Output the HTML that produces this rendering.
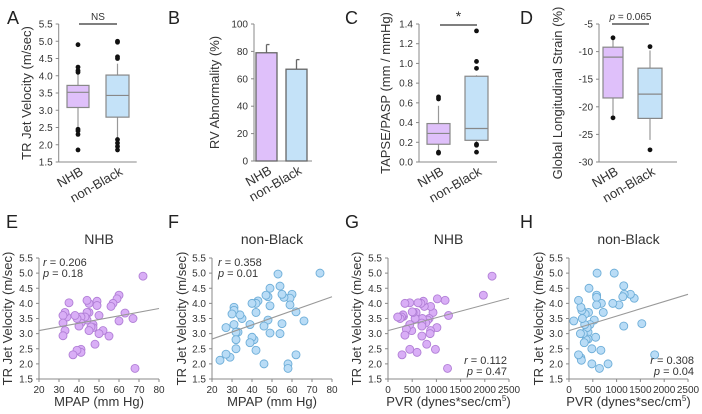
<!DOCTYPE html>
<html><head><meta charset="utf-8"><style>
body{margin:0;background:#fff;}
svg{display:block;font-family:"Liberation Sans",Arial,sans-serif;}
</style></head><body>
<svg id="fig" width="702" height="414" viewBox="0 0 702 414"></svg>
<script>
// ---- Panel A data (TR jet velocity box plots)
const boxCats = ["NHB","non-Black"];
const aQ1=[3.08,2.80], aMed=[3.52,3.43], aQ3=[3.72,4.02], aWLo=[2.5,2.2], aWHi=[4.05,4.35];
const aOut=[[4.9,4.25,4.1,4.15,2.45,2.4,2.3,1.85],[5.0,4.97,4.55,4.5,2.15,2.05,1.95,1.85]];
const aTicks=[1.5,2.0,2.5,3.0,3.5,4.0,4.5,5.0,5.5];
// ---- Panel B
const bVals=[79,67], bErr=[85,74];
const bTicks=[0,20,40,60,80,100];
// ---- Panel C
const cQ1=[0.18,0.22], cMed=[0.29,0.34], cQ3=[0.39,0.87], cWLo=[0.12,0.2], cWHi=[0.57,0.88];
const cOut=[[0.66,0.64,0.1,0.09],[1.33,1.02,0.95,0.18,0.17,0.1]];
const cTicks=[0.0,0.2,0.4,0.6,0.8,1.0,1.2,1.4];
// ---- Panel D
const dQ1=[-18.4,-22.1], dMed=[-11,-17.7], dQ3=[-9.2,-13], dWLo=[-21.8,-26], dWHi=[-7.8,-9.8];
const dOut=[[-7.5,-22],[-9.1,-27.8]];
const dTicks=[-30,-25,-20,-15,-10,-5];
// ---- Scatter data
const eX=[72,68,67,63,60,59,60,57,56,55,52,50,50,49,49,48,47,47,46,45,45,45,44,44,44,43,41,41,41,41,40,39,39,38,37,35,34,33,33,32,32,32];
const eY=[4.9,1.85,3.5,3.68,4.27,4.15,3.42,4.0,3.9,2.92,3.1,3.0,3.6,4.07,3.93,2.65,3.3,3.2,3.22,4.0,3.7,3.1,4.1,3.7,3.45,3.55,3.55,3.35,2.48,2.38,3.25,3.5,2.45,3.6,2.3,4.02,3.55,3.7,3.1,3.6,3.35,2.93];
const fX=[74,66,62,62,60,59,59,58,58,56,55,55,54,54,53,49,49,49,48,48,47,46,46,43,42,42,42,41,40,40,39,39,35,34,33,32,32,32,31,31,31,30,29,27,27,24];
const fY=[5.0,3.42,3.72,2.3,4.3,4.17,3.95,2.0,1.85,4.2,4.3,3.33,4.57,3.0,4.97,4.5,3.92,3.02,4.22,3.45,4.27,3.25,2.0,4.08,4.0,3.7,2.45,2.8,4.0,2.88,3.3,2.7,3.5,3.62,3.05,3.05,2.8,2.5,3.87,3.77,3.3,3.65,2.22,3.2,2.32,2.12];
const gX=[2150,1970,1250,1230,1180,1020,1010,980,930,880,880,870,850,820,800,780,750,730,710,700,700,700,680,620,600,580,560,520,500,490,450,450,450,380,350,350,320,310,290,280,250,200];
const gY=[4.9,4.27,3.6,1.85,4.1,4.15,3.2,2.48,3.7,3.9,3.1,3.0,3.5,3.45,2.65,3.35,3.9,4.07,3.5,3.35,3.25,2.92,4.0,4.02,2.38,3.7,3.5,3.7,3.72,3.1,4.02,3.3,2.48,3.15,4.0,2.95,3.57,3.62,2.3,3.55,3.5,3.55];
const hX=[1800,1530,1370,1290,1160,1150,1130,1150,1050,950,920,720,680,670,590,580,580,580,820,640,560,530,480,480,440,420,410,400,400,380,360,340,330,320,300,280,270,250,240,250,260,200,200,100];
const hY=[2.3,3.33,4.17,4.3,4.3,4.58,4.22,3.25,3.95,5.0,4.0,3.7,4.0,2.45,5.0,4.27,4.2,3.95,2.0,1.85,2.88,3.45,2.5,2.0,3.3,4.5,3.7,3.05,2.82,3.2,2.8,3.65,3.3,2.7,3.0,3.5,3.77,3.87,3.0,2.2,2.12,4.1,2.3,3.42];
const eLine=[3.1,3.83], fLine=[2.82,4.22], gLine=[3.1,4.17], hLine=[3.1,4.3];
const mpapTicks=[20,30,40,50,60,70,80], pvrTicks=[0,500,1000,1500,2000,2500];
const tvTicks=[1.5,2.0,2.5,3.0,3.5,4.0,4.5,5.0,5.5];

const NS="http://www.w3.org/2000/svg";
const svg=document.getElementById('fig');
const PF="#dfc0fa",PS="#a67cc8",BF="#c4e2f8",BS="#7eaed0",AX="#888",TX="#333";
function el(tag,attrs,parent,text){const e=document.createElementNS(NS,tag);for(const k in attrs)e.setAttribute(k,attrs[k]);if(text!==undefined)e.textContent=text;(parent||svg).appendChild(e);return e;}
function lin(d0,d1,r0,r1){return v=>r0+(v-d0)*(r1-r0)/(d1-d0);}
function grp(name){const g=el('g',{});return g;}
function yAxis(g,x,y0,y1,sy,ticks,dec,titleX,title,xEnd){
  const a=el('line',{x1:x,y1:y0,x2:x,y2:y1,stroke:AX,'stroke-width':1},g);
  if(xEnd){const b=el('line',{x1:x,y1:y0,x2:xEnd,y2:y0,stroke:AX,'stroke-width':1},g);}
  ticks.forEach(t=>{const y=sy(t);el('line',{x1:x-3,y1:y,x2:x,y2:y,stroke:AX},g);
    const l=el('text',{x:x-6,y:y+3.5,'font-size':10,'text-anchor':'end',fill:TX},g,t.toFixed(dec));});
  const cy=(y0+y1)/2;const tt=el('text',{x:titleX,y:cy,'font-size':13,'text-anchor':'middle',fill:TX,transform:`rotate(-90 ${titleX} ${cy})`},g,title);
  
}
function letter(x,y,t){const l=el('text',{x:x,y:y,'font-size':18,fill:'#222'},svg,t);}
function catLabels(g,cxs,yBase){boxCats.forEach((c,i)=>{const x=cxs[i]+6,y=yBase+12;
  const t=el('text',{x:x,y:y,'font-size':13,'text-anchor':'end',fill:TX,transform:`rotate(-30 ${x} ${y})`},g,c);
  });}
function boxPanel(name,x0,yTop,yBot,dMin,dMax,ticks,dec,titleX,title,boxes,Q1,Med,Q3,WL,WH,Out,sig){
  const g=grp(name);const sy=lin(dMin,dMax,yBot,yTop);
  yAxis(g,x0,yBot,yTop,sy,ticks,dec,titleX,title,x0+78);
  const cxs=[];
  boxes.forEach((b,i)=>{const cx=(b[0]+b[1])/2;cxs.push(cx);
    const w=el('line',{x1:cx,y1:sy(WL[i]),x2:cx,y2:sy(WH[i]),stroke:'#999','stroke-width':1.2},g);
    const r=el('rect',{x:b[0],y:sy(Q3[i]),width:b[1]-b[0],height:sy(Q1[i])-sy(Q3[i]),fill:i?BF:PF,stroke:'#888','stroke-width':1.2},g);
    
    el('line',{x1:b[0],y1:sy(Med[i]),x2:b[1],y2:sy(Med[i]),stroke:'#888','stroke-width':1.2},g);
    Out[i].forEach(v=>{const c=el('circle',{cx:cx,cy:sy(v),r:2.4,fill:'#111'},g);});
  });
  catLabels(g,cxs,yBot);
  if(sig){const l=el('line',{x1:sig[0],y1:sig[2],x2:sig[1],y2:sig[2],stroke:'#333','stroke-width':1.3},g);
    const t=el('text',{x:(sig[0]+sig[1])/2,y:sig[2]-4,'font-size':sig[4]||10,'text-anchor':'middle',fill:TX},g);
    if(sig[3].startsWith('p')){el('tspan',{'font-style':'italic'},t,'p');el('tspan',{},t,sig[3].slice(1));}else t.textContent=sig[3];}
}
// A
letter(7,24,'A');
boxPanel('panel-a-box-plot',58.7,24,162,1.5,5.5,aTicks,1,31,'TR Jet Velocity (m/sec)',[[67,89],[106,129]],aQ1,aMed,aQ3,aWLo,aWHi,aOut,[79,117,24,'NS']);
// B
letter(168,24,'B');
(function(){const g=grp('panel-b-bar-chart');const x0=254,sy=lin(0,100,161,24);
  yAxis(g,x0,161,24,sy,bTicks,0,219,'RV Abnormality (%)',x0+58);
  const bx=[[256,277],[286,307]];const cxs=[];
  bVals.forEach((v,i)=>{const cx=(bx[i][0]+bx[i][1])/2;cxs.push(cx);
    const e=el('line',{x1:cx,y1:sy(v),x2:cx,y2:sy(bErr[i]),stroke:'#666','stroke-width':1.3},g);
    el('line',{x1:cx,y1:sy(bErr[i]),x2:cx+3,y2:sy(bErr[i]),stroke:'#666','stroke-width':1.3},g);
    const r=el('rect',{x:bx[i][0],y:sy(v),width:bx[i][1]-bx[i][0],height:sy(0)-sy(v),fill:i?BF:PF,stroke:'#666','stroke-width':1.3},g);
    });
  catLabels(g,cxs,161);})();
// C
letter(345,24,'C');
boxPanel('panel-c-box-plot',419,24,162,0,1.4,cTicks,1,390,'TAPSE/PASP (mm / mmHg)',[[427,450],[465,488]],cQ1,cMed,cQ3,cWLo,cWHi,cOut,[440,477,25,'*',14]);
// D
letter(520,24,'D');
boxPanel('panel-d-box-plot',599,24,162,-30,-5,dTicks,0,562,'Global Longitudinal Strain (%)',[[603,623],[638,662]],dQ1,dMed,dQ3,dWLo,dWHi,dOut,[612,649,24,'p = 0.065']);
// scatter panels
function scatter(name,L,x0,x1,yTop,yBot,xd,xt,X,Y,line,col,titleX,title,xTitle,stats,statPos,sup){
  letter(L[1],L[2],L[0]);
  const g=grp(name);const sx=lin(xd[0],xd[1],x0,x1),sy=lin(1.5,5.5,yBot,yTop);
  yAxis(g,x0,yBot,yTop,sy,tvTicks,1,titleX,'TR Jet Velocity (m/sec)',x1);
  xt.forEach(t=>{const x=sx(t);el('line',{x1:x,y1:yBot,x2:x,y2:yBot+3,stroke:AX},g);
    const l=el('text',{x:x,y:yBot+14,'font-size':10,'text-anchor':'middle',fill:TX},g,t);});
  const xt2=el('text',{x:(x0+x1)/2,y:yBot+27,'font-size':13,'text-anchor':'middle',fill:TX},g,xTitle);
  if(sup){const s=el('tspan',{'font-size':8,dy:-5},xt2,'5');el('tspan',{dy:5},xt2,')');}
  const tt=el('text',{x:(x0+x1)/2,y:yTop-14,'font-size':14,'text-anchor':'middle',fill:TX},g,title);
  X.forEach((v,i)=>{const c=el('circle',{cx:sx(v),cy:sy(Y[i]),r:4,fill:col[0],stroke:col[1],'stroke-width':0.9},g);
    });
  const rl=el('line',{x1:sx(xd[0]),y1:sy(line[0]),x2:sx(xd[1]),y2:sy(line[1]),stroke:'#999','stroke-width':1.1},g);
  stats.forEach((s,i)=>{const t=el('text',{x:statPos[0],y:statPos[1]+i*11,'font-size':11,'text-anchor':statPos[2],fill:TX},g);
    
    el('tspan',{'font-style':'italic'},t,s[0]);el('tspan',{},t,s.slice(1));});
}
const purple=["#d9aef6","#b17fd6"],blue=["#b9dcf6","#6eaed8"];
scatter('panel-e-scatter',['E',6,228],39,159,258,379,[20,80],mpapTicks,eX,eY,eLine,purple,12,'NHB','MPAP (mm Hg)',['r = 0.206','p = 0.18'],[43,266,'start']);
scatter('panel-f-scatter',['F',168,228],212,332,258,379,[20,80],mpapTicks,fX,fY,fLine,blue,186,'non-Black','MPAP (mm Hg)',['r = 0.358','p = 0.01'],[218,266,'start']);
scatter('panel-g-scatter',['G',345,228],388,509,258,379,[0,2500],pvrTicks,gX,gY,gLine,purple,361,'NHB','PVR (dynes*sec/cm',['r = 0.112','p = 0.47'],[507,364,'end'],true);
scatter('panel-h-scatter',['H',520,228],569,688,258,379,[0,2500],pvrTicks,hX,hY,hLine,blue,543,'non-Black','PVR (dynes*sec/cm',['r = 0.308','p = 0.04'],[694,364,'end'],true);
</script>
</body></html>
